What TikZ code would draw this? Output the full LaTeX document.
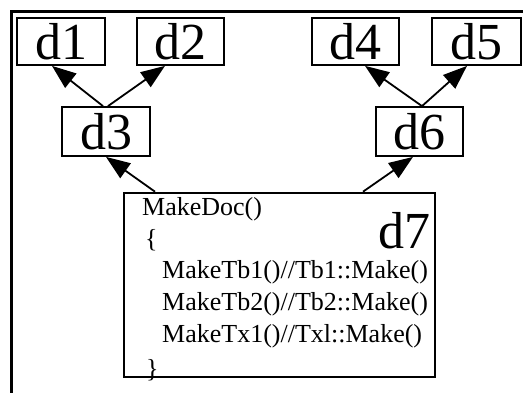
\documentclass[tikz,border=0pt]{standalone}
\usepackage{fontspec}
\setmainfont{Liberation Serif}
\usepackage{tikz}
\usetikzlibrary{arrows.meta}

\tikzset{
    dbox/.style={draw, line width=1.8pt, inner sep=0pt, minimum width=88pt, minimum height=47pt, font=\fontsize{52}{52}\selectfont},
    dlink/.style={line width=1.8pt, -{Triangle[length=24pt, width=18pt]}},
    code/.style={anchor=base west, inner sep=0pt, font=\fontsize{26}{30}\selectfont}
}

\begin{document}
\begin{tikzpicture}[x=1pt, y=-1pt]
                \useasboundingbox (0,0) rectangle (523,392);
                \clip (0,0) rectangle (523,392);
                % outer frame runs off the page
                \draw[line width=2.6pt] (11.5,11.5) rectangle (560,430);

                \node[dbox] (d1) at (61,41.5) {d1};
                \node[dbox, minimum width=87pt] (d2) at (180.5,41.5) {d2};
                \node[dbox, minimum width=87pt] (d4) at (355.5,41.5) {d4};
                \node[dbox, minimum width=89pt] (d5) at (476.5,41.5) {d5};
                \node[dbox, minimum height=49pt] (d3) at (106,131.5) {d3};
                \node[dbox, minimum width=87pt, minimum height=49pt] (d6) at (419.5,131.5) {d6};

                \node[draw, line width=2.6pt, minimum width=311pt, minimum height=184pt, inner sep=0pt] (d7) at (279.5,285) {};
                \node[anchor=base east, inner sep=0pt, font=\fontsize{52}{52}\selectfont] (lbl7) at (431,248) {d7};
                \node[code] (doc) at (142,215) {MakeDoc()};
                \node[code] (lbrace) at (145,247) {\{};
                \node[code] (tb1) at (162,278) {MakeTb1()//Tb1::Make()};
                \node[code] (tb2) at (162,310) {MakeTb2()//Tb2::Make()};
                \node[code] (tx1) at (162,342) {MakeTx1()//Txl::Make()};
                \node[code] (rbrace) at (146,377) {\}};

                \draw[dlink] ([xshift=-3pt]d3.north) -- ([xshift=-9pt]d1.south);
                \draw[dlink] ([xshift=2pt]d3.north) -- ([xshift=-15.5pt]d2.south);
                \draw[dlink] ([xshift=2.5pt]d6.north) -- ([xshift=9.5pt]d4.south);
                \draw[dlink] ([xshift=2.5pt]d6.north) -- ([xshift=-9.5pt]d5.south);
                \draw[dlink] ([xshift=-124.5pt]d7.north) -- (d3.south);
                \draw[dlink] ([xshift=83.5pt]d7.north) -- ([xshift=-6.5pt]d6.south);
            \end{tikzpicture}
\end{document}
